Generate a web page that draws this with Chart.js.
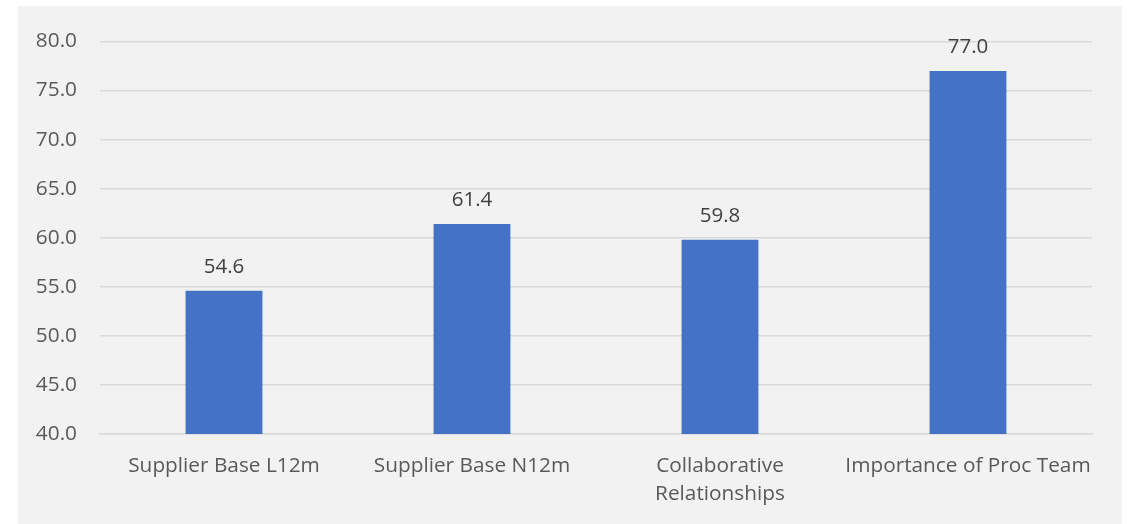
<!DOCTYPE html>
<html>
<head>
<meta charset="utf-8">
<script src="https://cdn.jsdelivr.net/npm/chart.js@4"></script>
<style>
  html, body { margin: 0; padding: 0; background: #ffffff; }
  #wrap {
    position: absolute;
    left: 18px;
    top: 6px;
    width: 1104px;
    height: 518px;
    background: #f2f2f2;
  }
</style>
</head>
<body>
<div id="wrap"><canvas id="chartBar"></canvas></div>
<script>
const categories = [
    "Supplier Base L12m",
    "Supplier Base N12m",
    ["Collaborative", "Relationships"],
    "Importance of Proc Team",
];
const scores = [54.6, 61.4, 59.8, 77.0];
const yMin = 40;
const yMax = 80;
const yStep = 5;

const labelFont = "Open Sans";

// draws the value above each bar
const barValues = {
    id: "barValues",
    afterDatasetsDraw(chart) {
        const ctx = chart.ctx;
        const meta = chart.getDatasetMeta(0);
        ctx.save();
        ctx.font = "20.5px '" + labelFont + "'";
        ctx.fillStyle = "#404040";
        ctx.textAlign = "center";
        ctx.textBaseline = "middle";
        meta.data.forEach(function (bar, i) {
            ctx.fillText(scores[i].toFixed(1), bar.x, bar.y - 24);
        });
        ctx.restore();
    },
};

document.addEventListener("DOMContentLoaded", function () {
    const data = {
        labels: categories,
        datasets: [
            {
                label: "Score",
                data: scores,
                backgroundColor: "#4472c4",
                categoryPercentage: 1,
                barPercentage: 0.31,
            },
        ],
    };

    const config = {
        type: "bar",
        data: data,
        plugins: [barValues],
        options: {
            responsive: true,
            maintainAspectRatio: false,
            animation: false,
            layout: {
                padding: { top: 34, right: 30, left: 0, bottom: 0 },
            },
            plugins: {
                legend: { display: false },
                tooltip: { enabled: false },
            },
            scales: {
                x: {
                    grid: { display: false, drawTicks: false },
                    border: { display: true, color: "#d9d9d9", width: 1.5 },
                    ticks: {
                        color: "#595959",
                        font: { family: labelFont, size: 20.8, lineHeight: 1.35 },
                        padding: 18,
                        maxRotation: 0,
                        autoSkip: false,
                    },
                    afterFit(scale) {
                        scale.height = 90;
                    },
                },
                y: {
                    min: yMin,
                    max: yMax,
                    grid: { color: "#d9d9d9", lineWidth: 1.5, drawTicks: false },
                    border: { display: false },
                    ticks: {
                        stepSize: yStep,
                        color: "#595959",
                        font: { family: labelFont, size: 20.8 },
                        padding: 23,
                        callback: function (v) {
                            return v.toFixed(1);
                        },
                    },
                    afterFit(scale) {
                        scale.width = 82;
                    },
                },
            },
        },
    };

    new Chart(document.getElementById("chartBar"), config);
});
</script>
</body>
</html>
